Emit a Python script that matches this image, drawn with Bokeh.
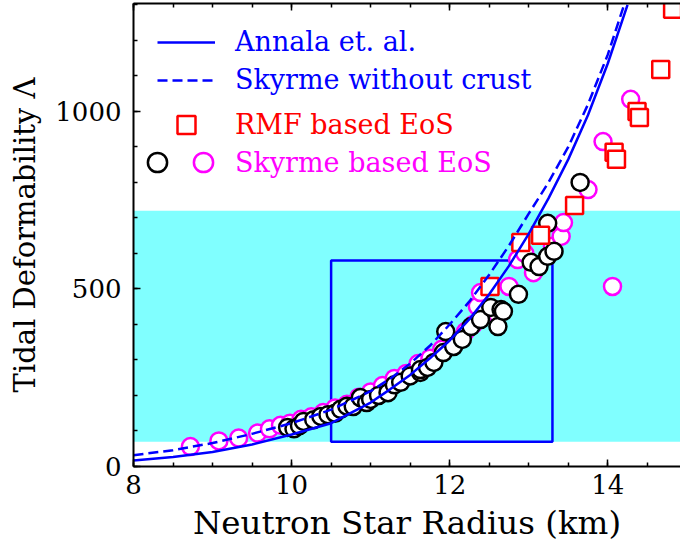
from bokeh.plotting import figure
from bokeh.models import (Range1d, LinearAxis, SingleIntervalTicker, BoxAnnotation,
                          Legend, LegendItem, CustomJSTickFormatter)
from bokeh.embed import file_html
from bokeh.resources import INLINE

# ---------------- data ----------------
annala_r = [8.0, 8.5, 9.0, 9.5, 10.0, 10.5, 11.0, 11.25, 11.5, 11.75, 12.0, 12.25,
            12.5, 12.75, 13.0, 13.25, 13.5, 13.75, 14.0, 14.25]
annala_lam = [17, 27, 41, 62, 90, 122, 180, 218, 258, 305, 355, 415,
              485, 565, 655, 755, 865, 990, 1135, 1300]

skyrme_nc_r = [8.0, 8.5, 9.0, 9.5, 10.0, 10.5, 11.0, 11.25, 11.5, 11.75, 12.0, 12.25,
               12.5, 12.75, 13.0, 13.25, 13.5, 13.75, 14.0, 14.25]
skyrme_nc_lam = [32, 46, 66, 92, 122, 160, 212, 248, 290, 340, 400, 465,
                 540, 622, 712, 800, 900, 1020, 1160, 1330]

rmf_r = [12.51, 12.90, 13.15, 13.58, 14.08, 14.11, 14.37, 14.40, 14.67, 14.82]
rmf_lam = [507, 631, 651, 735, 885, 865, 1000, 983, 1118, 1288]

skyrme_r = [8.72, 9.08, 9.33, 9.57, 9.72, 9.86, 9.98, 10.12, 10.25, 10.40, 10.55, 10.70,
            10.85, 11.00, 11.15, 11.30, 11.45, 11.60, 11.75, 11.90, 12.05, 12.20, 12.30,
            12.35, 12.39, 12.60, 12.75, 12.86, 12.95, 13.06, 13.30, 13.41, 13.44, 13.75,
            13.94, 14.29, 14.06]
skyrme_lam = [56, 72, 80, 94, 106, 116, 122, 133, 140, 152, 165, 175,
              195, 210, 228, 248, 262, 290, 305, 330, 355, 380, 400,
              451, 490, 430, 507, 583, 600, 546, 620, 648, 687, 780,
              915, 1034, 507]

black_r = [9.95, 10.03, 10.10, 10.15, 10.28, 10.37, 10.46, 10.55, 10.62, 10.70, 10.78,
           10.87, 10.95, 11.00, 11.10, 11.22, 11.30, 11.38, 11.50, 11.63, 11.63, 11.72,
           11.80, 11.92, 11.95, 12.05, 12.16, 12.27, 12.39, 12.52, 12.61, 12.65, 12.68,
           12.87, 13.03, 13.13, 13.24, 13.32, 13.24, 13.65]
black_lam = [110, 106, 115, 127, 132, 141, 146, 150, 161, 170, 169,
             194, 180, 189, 200, 208, 230, 237, 255, 265, 273, 279,
             293, 321, 380, 338, 358, 394, 414, 448, 394, 442, 437,
             485, 575, 563, 592, 606, 685, 800]

band_low, band_high = 70, 720
box_r = [10.5, 13.3]
box_lam = [70, 580]

FONT = "DejaVu Serif"

p = figure(frame_width=547, frame_height=463,
           x_range=Range1d(8, 14.92), y_range=Range1d(0, 1304),
           output_backend="svg", toolbar_location=None,
           min_border_left=133, min_border_right=0, min_border_top=3, min_border_bottom=0)
p.outline_line_color = None
p.grid.visible = False
p.background_fill_color = "white"

# shaded band and box
p.add_layout(BoxAnnotation(bottom=band_low, top=band_high, fill_color="#80ffff",
                           fill_alpha=1.0, line_color=None, level="underlay"))
p.add_layout(BoxAnnotation(left=box_r[0], right=box_r[1], bottom=box_lam[0], top=box_lam[1],
                           fill_alpha=0, line_color="#0000ff", line_alpha=1.0, line_width=2.5,
                           level="underlay"))

# scatter
mag = p.scatter(skyrme_r, skyrme_lam, marker="circle", size=17, fill_color="white",
                line_color="#ff00ff", line_width=2.5)
blk = p.scatter(black_r, black_lam, marker="circle", size=17, fill_color="white",
                line_color="black", line_width=2.5)
rmf = p.scatter(rmf_r, rmf_lam, marker="square", size=17, fill_color="white",
                line_color="#ff0000", line_width=2.5)

# curves
l1 = p.line(annala_r, annala_lam, line_color="#0000ff", line_width=2.5)
l2 = p.line(skyrme_nc_r, skyrme_nc_lam, line_color="#0000ff", line_width=2.5,
            line_dash="10 5")

# axes styling
def style_axis(ax):
    ax.axis_line_width = 2
    ax.axis_line_color = "black"
    ax.major_tick_in = 7
    ax.major_tick_out = 0
    ax.minor_tick_in = 4
    ax.minor_tick_out = 0
    ax.major_tick_line_width = 1.5
    ax.minor_tick_line_width = 1.5
    ax.major_tick_line_color = "black"
    ax.minor_tick_line_color = "black"
    ax.major_label_text_font = FONT
    ax.major_label_text_font_size = "26px"
    ax.major_label_text_color = "black"
    ax.axis_label_text_font = FONT
    ax.axis_label_text_font_size = "29px"
    ax.axis_label_text_font_style = "normal"
    ax.axis_label_text_color = "black"

p.xaxis.ticker = SingleIntervalTicker(interval=2, num_minor_ticks=4)
p.yaxis.ticker = SingleIntervalTicker(interval=500, num_minor_ticks=5)
for ax in p.xaxis + p.yaxis:
    style_axis(ax)
p.xaxis.axis_label = "Neutron Star Radius (km)"
p.yaxis.axis_label = "Tidal Deformability Λ"
p.xaxis.axis_label_text_font_size = "32.5px"
p.xaxis.major_label_standoff = 8
p.yaxis.major_label_standoff = 12
p.xaxis.axis_label_standoff = 7
p.yaxis.axis_label_standoff = 10

top = LinearAxis(ticker=SingleIntervalTicker(interval=2, num_minor_ticks=4),
                 formatter=CustomJSTickFormatter(code="return ''"))
style_axis(top)
top.major_label_standoff = 0
p.add_layout(top, "above")

# legends (one per entry so each has its own text colour)
def add_legend(items, loc, color, gw, gh, standoff):
    lg = Legend(items=items, location=loc, padding=0, margin=0, spacing=0,
                border_line_color=None, background_fill_alpha=0,
                glyph_width=gw, glyph_height=gh, label_height=gh,
                label_standoff=standoff, label_text_color=color,
                label_text_font=FONT, label_text_font_size="27px")
    p.add_layout(lg)

add_legend([LegendItem(label="Annala et. al.", renderers=[l1])], (24, 409), "#0000ff", 58, 30, 20)
add_legend([LegendItem(label="Skyrme without crust", renderers=[l2])], (24, 371), "#0000ff", 58, 30, 20)
add_legend([LegendItem(label="RMF based EoS", renderers=[rmf])], (24, 319), "#ff0000", 58, 45, 20)
add_legend([LegendItem(label="", renderers=[blk])], (0, 280), "black", 48, 48, 0)
add_legend([LegendItem(label="Skyrme based EoS", renderers=[mag])], (46, 280), "#ff00ff", 48, 48, 8)

open("out.html", "w").write(file_html(p, INLINE))
